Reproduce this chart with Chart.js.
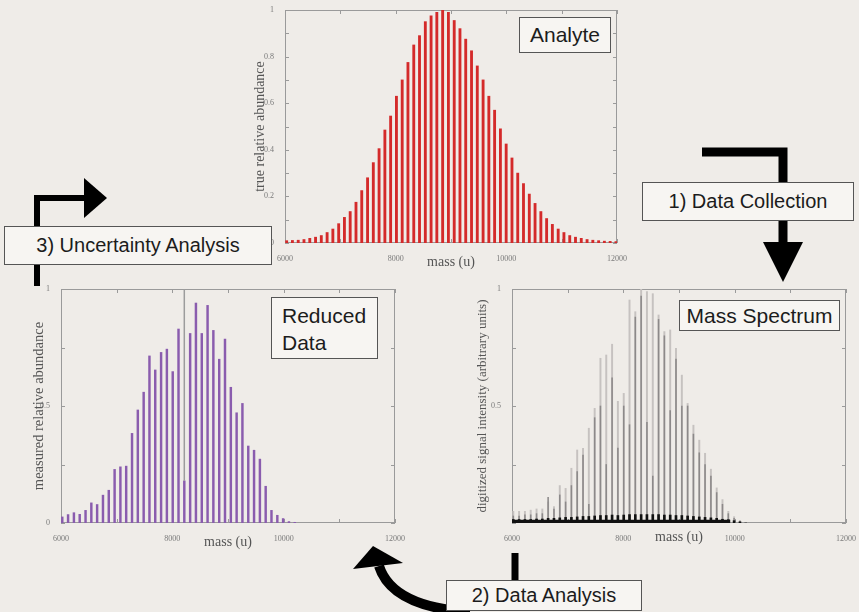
<!DOCTYPE html>
<html>
<head>
<meta charset="utf-8">
<script src="https://cdn.jsdelivr.net/npm/chart.js@4.4.1/dist/chart.umd.min.js"></script>
<style>
  html, body { margin: 0; padding: 0; }
  body { width: 859px; height: 612px; background: #efece8; position: relative; overflow: hidden; }
  .plot { position: absolute; }
  .box {
    position: absolute; box-sizing: border-box; border: 1px solid #555; background: #f7f5f2;
    font-family: "Liberation Sans", Arial, sans-serif; color: #1c1c1c; white-space: nowrap;
  }
  svg { position: absolute; left: 0; top: 0; }
</style>
</head>
<body>
<div class="plot" style="left:230px;top:0px"><canvas id="analyte" width="400" height="280"></canvas></div>
<div class="plot" style="left:0px;top:280px"><canvas id="reduced" width="410" height="280"></canvas></div>
<div class="plot" style="left:460px;top:280px"><canvas id="spectrum" width="399" height="280"></canvas></div>

<svg width="859" height="612">
  <!-- 1) data collection arrow -->
  <polyline points="702,152 783,152 783,248" fill="none" stroke="#000" stroke-width="9"/>
  <polygon points="763,242 803,242 783,282" fill="#000"/>
  <!-- 3) uncertainty arrow -->
  <polyline points="37,286 37,198 88,198" fill="none" stroke="#000" stroke-width="6"/>
  <polygon points="84,178 84,218 107,198" fill="#000"/>
  <!-- 2) data analysis arrow -->
  <line x1="515" y1="553" x2="515" y2="590" stroke="#000" stroke-width="7"/>
  <path d="M 470 612 Q 392 607 379 566" fill="none" stroke="#000" stroke-width="10"/>
  <polygon points="373,546 353,569 403,563" fill="#000"/>
</svg>

<div class="box" style="left:519px;top:17px;width:92px;height:36px;font-size:21px;line-height:34px;text-align:center">Analyte</div>
<div class="box" style="left:271px;top:297px;width:107px;height:62px;font-size:21px;line-height:27px;padding:4px 0 0 10px">Reduced<br>Data</div>
<div class="box" style="left:679px;top:300px;width:161px;height:31px;font-size:21px;line-height:29px;text-align:center">Mass Spectrum</div>
<div class="box" style="left:642px;top:182px;width:212px;height:39px;font-size:20px;line-height:37px;text-align:center">1) Data Collection</div>
<div class="box" style="left:4px;top:226px;width:268px;height:39px;font-size:20px;line-height:37px;text-align:center">3) Uncertainty Analysis</div>
<div class="box" style="left:446px;top:580px;width:196px;height:31px;font-size:20px;line-height:29px;text-align:center">2) Data Analysis</div>

<script>
// analyte (true distribution)
const analyteMass = [6030, 6134, 6239, 6343, 6448, 6552, 6656, 6761, 6865, 6970,
  7074, 7178, 7283, 7387, 7492, 7596, 7700, 7805, 7909, 8014,
  8118, 8222, 8327, 8431, 8536, 8640, 8744, 8849, 8953, 9058,
  9162, 9266, 9371, 9475, 9580, 9684, 9788, 9893, 9997, 10102,
  10206, 10310, 10415, 10519, 10624, 10728, 10832, 10937, 11041, 11146,
  11250, 11354, 11459, 11563, 11668, 11772, 11876, 11981];
const analyteAbundance = [0.01, 0.011, 0.012, 0.015, 0.02, 0.025, 0.032, 0.045, 0.06, 0.083,
  0.11, 0.135, 0.175, 0.225, 0.28, 0.345, 0.405, 0.485, 0.545, 0.63,
  0.70, 0.775, 0.85, 0.89, 0.95, 0.975, 0.99, 1.0, 0.99, 0.955,
  0.92, 0.875, 0.825, 0.76, 0.70, 0.63, 0.57, 0.49, 0.425, 0.365,
  0.30, 0.255, 0.21, 0.17, 0.135, 0.105, 0.08, 0.06, 0.045, 0.032,
  0.025, 0.02, 0.015, 0.012, 0.01, 0.008, 0.007, 0.006];

// measured peaks (spectrum + reduced data)
const measuredMass = [6023, 6127, 6232, 6336, 6441, 6545, 6649, 6754, 6858, 6963,
  7067, 7171, 7276, 7380, 7485, 7589, 7693, 7798, 7902, 8007,
  8111, 8215, 8320, 8424, 8529, 8633, 8737, 8842, 8946, 9051,
  9155, 9259, 9364, 9468, 9573, 9677, 9781, 9886, 9990, 10095, 10199];
const reducedAbundance = [0.026, 0.036, 0.044, 0.037, 0.054, 0.086, 0.079, 0.119, 0.14, 0.229,
  0.24, 0.243, 0.383, 0.483, 0.559, 0.714, 0.654, 0.729, 0.743, 0.647,
  0.829, 0.18, 0.81, 0.94, 0.81, 0.93, 0.823, 0.70, 0.786, 0.58,
  0.471, 0.511, 0.329, 0.311, 0.273, 0.157, 0.054, 0.033, 0.019, 0.006, 0.003];
const reducedMarkerMass = 8215;
const reducedMarkerSpan = [0.18, 1];

const spectrumLight = [0.05, 0.05, 0.05, 0.055, 0.06, 0.06, 0.09, 0.07, 0.16, 0.148,
  0.234, 0.312, 0.319, 0.405, 0.49, 0.704, 0.718, 0.764, 0.52, 0.554,
  0.953, 0.903, 1.0, 0.989, 0.98, 0.889, 0.818, 0.825, 0.746, 0.632,
  0.511, 0.418, 0.354, 0.298, 0.23, 0.15, 0.10, 0.05, 0.027, 0.01, 0];
const spectrumDark = [0.03, 0.03, 0.035, 0.035, 0.04, 0.04, 0.11, 0.06, 0.12, 0.09,
  0.16, 0.22, 0.29, 0.08, 0.45, 0.50, 0.25, 0.62, 0.32, 0.50,
  0.42, 0.88, 0.97, 0.43, 0.20, 0.87, 0.80, 0.48, 0.70, 0.50,
  0.50, 0.38, 0.30, 0.25, 0.20, 0.13, 0.08, 0.04, 0.02, 0.008, 0];
const spectrumSpike = [0.015, 0.015, 0.015, 0.015, 0.017, 0.017, 0.02, 0.02, 0.022, 0.024,
  0.024, 0.026, 0.028, 0.028, 0.03, 0.032, 0.032, 0.034, 0.032, 0.034,
  0.036, 0.036, 0.036, 0.036, 0.036, 0.036, 0.034, 0.034, 0.032, 0.032,
  0.03, 0.028, 0.026, 0.024, 0.022, 0.02, 0.016, 0.014, 0.01, 0.005, 0];
const spectrumBaseline = [[6000, 0.006], [9920, 0.006]];

const massRange = [6000, 12000];
const massLabels = [6000, 8000, 10000, 12000];

function pts(xs, ys) { return xs.map((x, i) => ({x, y: ys[i]})); }

// box frame with inward ticks on all sides
const frameTicks = {
  id: 'frameTicks',
  beforeDatasetsDraw(chart) {
    const {ctx, chartArea: a, scales: {x, y}} = chart;
    const len = 4;
    ctx.save();
    ctx.strokeStyle = '#9a9a9a';
    ctx.lineWidth = 1;
    ctx.strokeRect(a.left + 0.5, a.top + 0.5, a.width - 1, a.height - 1);
    ctx.beginPath();
    x.ticks.forEach(t => {
      const px = Math.round(x.getPixelForValue(t.value)) + 0.5;
      ctx.moveTo(px, a.bottom); ctx.lineTo(px, a.bottom - len);
      ctx.moveTo(px, a.top); ctx.lineTo(px, a.top + len);
    });
    y.ticks.forEach(t => {
      const py = Math.round(y.getPixelForValue(t.value)) + 0.5;
      ctx.moveTo(a.left, py); ctx.lineTo(a.left + len, py);
      ctx.moveTo(a.right, py); ctx.lineTo(a.right - len, py);
    });
    ctx.stroke();
    ctx.restore();
  }
};

const serif = '"Liberation Serif", "Times New Roman", serif';

function makeOptions(c) {
  const tickFont = {family: serif, size: 8};
  return {
    responsive: false,
    devicePixelRatio: 1,
    animation: false,
    events: [],
    layout: {padding: {top: c.padTop, right: c.padRight, left: 0, bottom: 0}},
    plugins: {legend: {display: false}, tooltip: {enabled: false}},
    scales: {
      x: {
        type: 'linear', min: massRange[0], max: massRange[1], offset: false,
        grid: {display: false, offset: false}, border: {display: false},
        ticks: {
          stepSize: 1000, autoSkip: false, maxRotation: 0, padding: 3,
          color: '#7a7a7a', font: tickFont,
          callback: v => massLabels.includes(v) ? String(v) : ''
        },
        title: {
          display: true, text: 'mass (u)', color: '#555',
          font: {family: serif, size: 14},
          padding: {top: 0, bottom: c.xTitleOff - 8.4}
        },
        afterFit: s => { s.height = c.xAxisH; }
      },
      y: {
        min: 0, max: 1,
        grid: {display: false}, border: {display: false},
        ticks: {
          stepSize: c.yStep, autoSkip: false, padding: 3,
          color: '#7a7a7a', font: tickFont,
          callback: c.yLabel
        },
        title: {
          display: true, text: c.yTitle, color: '#555',
          font: {family: serif, size: c.yTitleSize},
          padding: {top: c.yTitleOff - c.yTitleSize * 0.6, bottom: 0}
        },
        afterFit: s => { s.width = c.yAxisW; }
      }
    }
  };
}

function fmt(v) { return String(Number(v.toFixed(2))); }

new Chart(document.getElementById('analyte'), {
  type: 'bar',
  data: {datasets: [{
    data: pts(analyteMass, analyteAbundance),
    backgroundColor: '#d42a2a', barThickness: 2.2, grouped: false
  }]},
  options: makeOptions({
    padTop: 10, padRight: 10, xAxisH: 37, yAxisW: 55, xTitleOff: 18,
    yTitle: 'true relative abundance', yTitleSize: 14, yTitleOff: 30, yStep: 0.1,
    yLabel: v => (Math.round(v * 10) % 2 === 0) ? fmt(v) : ''
  }),
  plugins: [frameTicks]
});

new Chart(document.getElementById('reduced'), {
  type: 'bar',
  data: {datasets: [{
    type: 'line',
    data: reducedMarkerSpan.map(y => ({x: reducedMarkerMass, y})),
    borderColor: '#9c9c9c', borderWidth: 1.5, pointRadius: 0
  }, {
    data: pts(measuredMass, reducedAbundance),
    backgroundColor: '#8a5cae', barThickness: 1.8, grouped: false
  }]},
  options: makeOptions({
    padTop: 9, padRight: 15, xAxisH: 37, yAxisW: 61, xTitleOff: 18,
    yTitle: 'measured relative abundance', yTitleSize: 14.5, yTitleOff: 39, yStep: 0.25,
    yLabel: v => (Math.round(v * 4) % 2 === 0) ? fmt(v) : ''
  }),
  plugins: [frameTicks]
});

new Chart(document.getElementById('spectrum'), {
  type: 'bar',
  data: {datasets: [{
    type: 'line',
    data: spectrumBaseline.map(p => ({x: p[0], y: p[1]})),
    borderColor: '#111', borderWidth: 3.5, pointRadius: 0
  }, {
    data: pts(measuredMass, spectrumSpike),
    backgroundColor: '#111', barThickness: 2, grouped: false
  }, {
    data: pts(measuredMass, spectrumDark),
    backgroundColor: '#8c8989', barThickness: 0.9, grouped: false
  }, {
    data: pts(measuredMass, spectrumLight),
    backgroundColor: '#c6c2c0', barThickness: 1.3, grouped: false
  }]},
  options: makeOptions({
    padTop: 9, padRight: 13, xAxisH: 37, yAxisW: 52, xTitleOff: 23,
    yTitle: 'digitized signal intensity (arbitrary units)', yTitleSize: 13, yTitleOff: 23, yStep: 0.25,
    yLabel: v => (v > 0 && Math.round(v * 4) % 2 === 0) ? fmt(v) : ''
  }),
  plugins: [frameTicks]
});
</script>
</body>
</html>
